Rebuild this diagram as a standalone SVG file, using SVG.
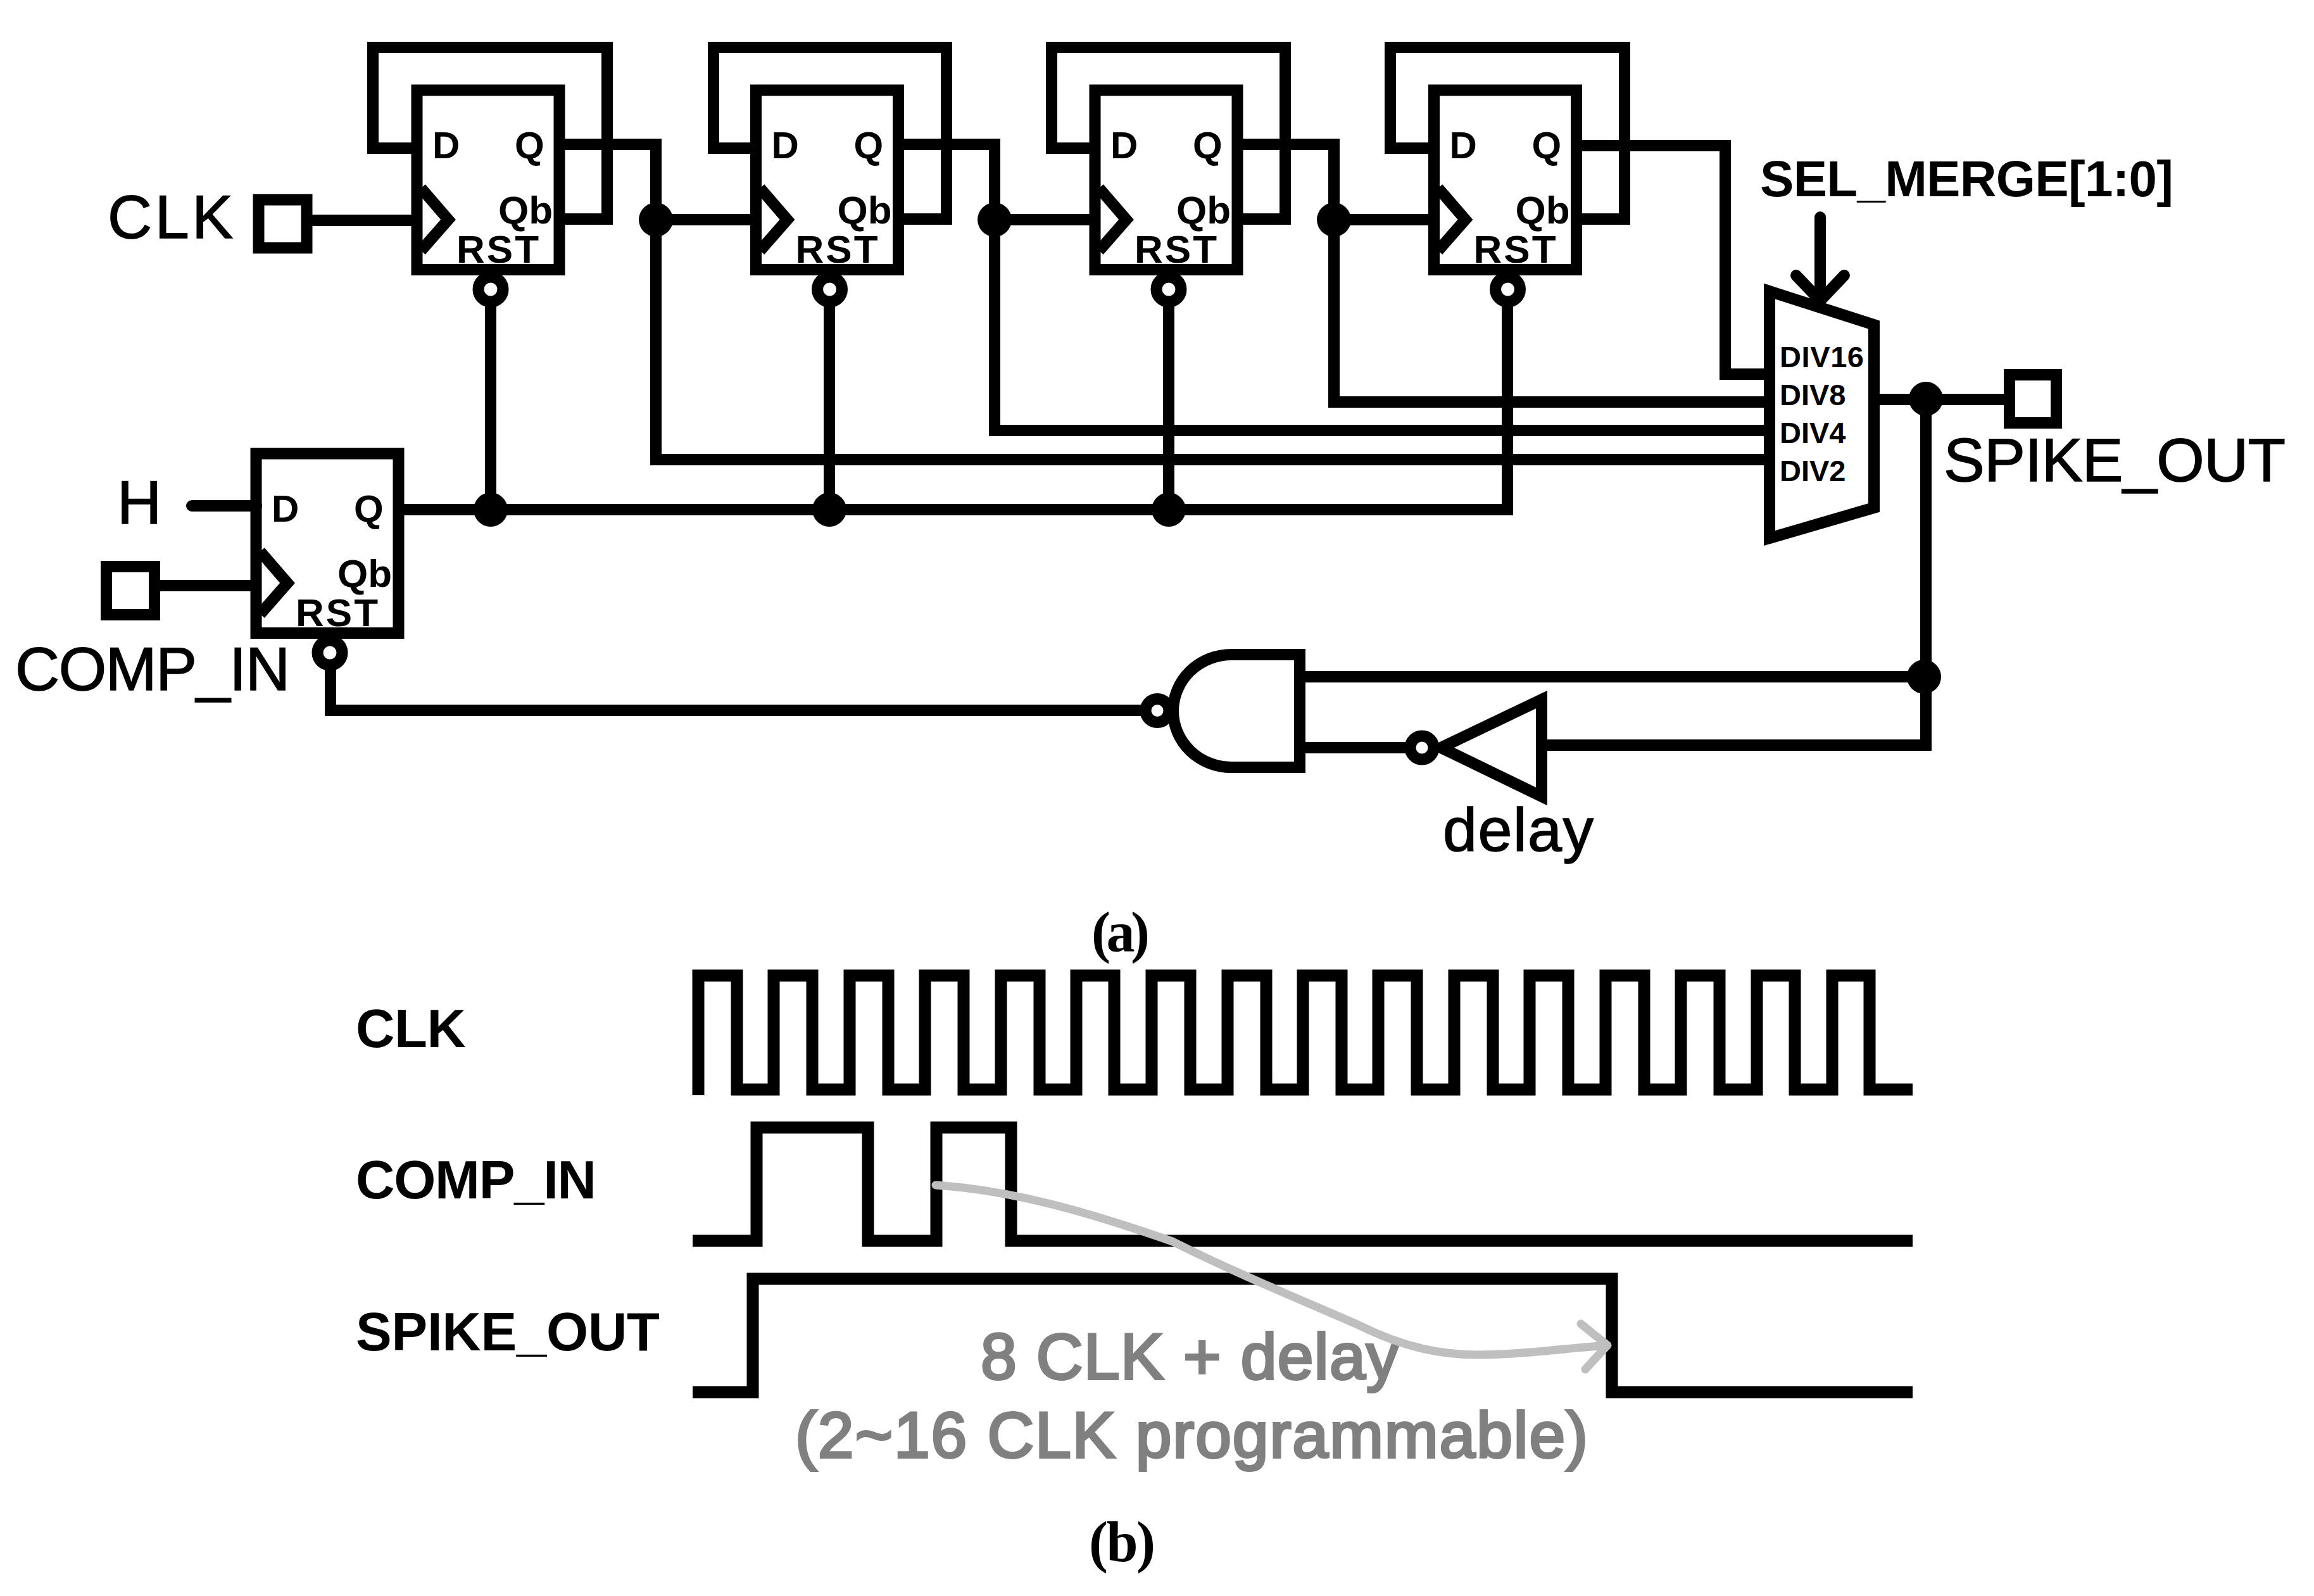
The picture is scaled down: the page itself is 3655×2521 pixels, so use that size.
<svg xmlns="http://www.w3.org/2000/svg" width="3655" height="2521" viewBox="0 0 3655 2521">
<style>
.w{fill:none;stroke:#000;stroke-width:18;stroke-linejoin:miter}
.b{fill:#fff;stroke:#000;stroke-width:18}
.d{fill:#000}
text{font-family:"Liberation Sans",Arial,sans-serif;fill:#000}
.ff{font-size:60px;font-weight:bold}
.fb{font-size:62px;font-weight:bold}
.mx{font-size:47px;font-weight:bold}
.lb{font-size:97px;stroke:#000;stroke-width:1.500px}
.tl{font-size:85px;font-weight:bold}
.gr{font-size:102px;fill:#808080;stroke:#808080;stroke-width:4px}
.cap{font-family:"Liberation Serif","Times New Roman",serif;font-size:90px;font-weight:bold}
.tw{fill:none;stroke:#000;stroke-width:19;stroke-linejoin:miter}
</style>
<rect width="3655" height="2521" fill="#fff"/>
<g id="connectors">
<path class="w" d="M493 348H650"/>
<path class="w" d="M658 234H589V75H959V346H883"/>
<path class="w" d="M1194 234H1127V75H1495V346H1419"/>
<path class="w" d="M1730 234H1661V75H2030V346H1955"/>
<path class="w" d="M2265 234H2196V75H2566V346H2491"/>
<path class="w" d="M883 228H1036V726H2795"/>
<path class="w" d="M1419 228H1571V680H2795"/>
<path class="w" d="M1955 228H2107V635H2795"/>
<path class="w" d="M2491 230H2725V591H2795"/>
<path class="w" d="M1036 347H1186M1571 347H1722M2107 347H2257"/>
<path class="w" d="M631 805H2381V470M775 470V805M1310 470V805M1846 470V805"/>
<path class="w" d="M303 799H405" stroke-linecap="round"/>
<path class="w" d="M252 925H396"/>
<path class="w" d="M522 1040V1122H1810" stroke-linejoin="round"/>
<path class="w" d="M2960 631H3165M3042 631V1177H2443"/>
<path class="w" d="M2053 1069H3042M2053 1181H2228"/>
<path class="w" d="M2875 343V472M2837 435L2875 475L2913 435" stroke-linecap="round" stroke-linejoin="round"/>
<circle class="d" cx="1036" cy="347" r="27"/>
<circle class="d" cx="1571" cy="347" r="27"/>
<circle class="d" cx="2107" cy="347" r="27"/>
<circle class="d" cx="775" cy="805" r="27"/>
<circle class="d" cx="1310" cy="805" r="27"/>
<circle class="d" cx="1846" cy="805" r="27"/>
<circle class="d" cx="3042" cy="630" r="27"/>
<circle class="d" cx="3039" cy="1069" r="27"/>
</g>
<g id="clk-pad"><rect class="b" x="408.500" y="315.500" width="76" height="76"/><text class="lb" x="170" y="376" textLength="198">CLK</text></g>
<g id="h-label"><text class="lb" x="185" y="827">H</text></g>
<g id="comp-pad"><rect class="b" x="168" y="895" width="76" height="76"/><text class="lb" x="24" y="1090" textLength="434">COMP_IN</text></g>
<g id="spike-pad"><rect class="b" x="3174" y="592" width="74" height="76"/><text class="lb" x="3070" y="760" textLength="540">SPIKE_OUT</text></g>
<g id="ff1">
<rect class="w" x="658.500" y="142.500" width="225" height="283.500"/>
<path class="w" d="M665 297L708 347L665 396"/>
<circle class="b" cx="775" cy="457" r="19.500"/>
<text class="ff" x="683" y="250">D</text><text class="ff" x="813" y="250">Q</text><text class="fb" x="787" y="353">Qb</text><text class="fb" x="721" y="415" textLength="130">RST</text>
</g>
<g id="ff2" transform="translate(535.500 0)">
<rect class="w" x="658.500" y="142.500" width="225" height="283.500"/>
<path class="w" d="M665 297L708 347L665 396"/>
<circle class="b" cx="775" cy="457" r="19.500"/>
<text class="ff" x="683" y="250">D</text><text class="ff" x="813" y="250">Q</text><text class="fb" x="787" y="353">Qb</text><text class="fb" x="721" y="415" textLength="130">RST</text>
</g>
<g id="ff3" transform="translate(1071 0)">
<rect class="w" x="658.500" y="142.500" width="225" height="283.500"/>
<path class="w" d="M665 297L708 347L665 396"/>
<circle class="b" cx="775" cy="457" r="19.500"/>
<text class="ff" x="683" y="250">D</text><text class="ff" x="813" y="250">Q</text><text class="fb" x="787" y="353">Qb</text><text class="fb" x="721" y="415" textLength="130">RST</text>
</g>
<g id="ff4" transform="translate(1606.500 0)">
<rect class="w" x="658.500" y="142.500" width="225" height="283.500"/>
<path class="w" d="M665 297L708 347L665 396"/>
<circle class="b" cx="775" cy="457" r="19.500"/>
<text class="ff" x="683" y="250">D</text><text class="ff" x="813" y="250">Q</text><text class="fb" x="787" y="353">Qb</text><text class="fb" x="721" y="415" textLength="130">RST</text>
</g>
<g id="ff0" transform="translate(-254 574)">
<rect class="w" x="658.500" y="142.500" width="225" height="283.500"/>
<path class="w" d="M665 297L708 347L665 396"/>
<circle class="b" cx="775" cy="457" r="19.500"/>
<text class="ff" x="683" y="250">D</text><text class="ff" x="813" y="250">Q</text><text class="fb" x="787" y="353">Qb</text><text class="fb" x="721" y="415" textLength="130">RST</text>
</g>
<g id="mux">
<path class="b" d="M2795 460L2960 513V802L2795 850Z"/>
<text class="mx" x="2811" y="580" textLength="133">DIV16</text>
<text class="mx" x="2811" y="640">DIV8</text>
<text class="mx" x="2811" y="700">DIV4</text>
<text class="mx" x="2811" y="760">DIV2</text>
</g>
<g id="sel-label"><text x="2780" y="310" font-size="80" font-weight="bold" textLength="653">SEL_MERGE[1:0]</text></g>
<g id="nand">
<path class="b" d="M2053 1034H1945A92 89 0 0 0 1945 1212H2053Z"/>
<circle class="b" cx="1828" cy="1122.500" r="18.500"/>
</g>
<g id="delay">
<path class="b" d="M2435 1105V1258L2276 1181Z"/>
<circle class="b" cx="2246" cy="1181" r="18.500"/>
<text class="lb" x="2279" y="1344" textLength="238">delay</text>
</g>
<text id="cap-a" class="cap" x="1724" y="1503" textLength="92">(a)</text>
<g id="waves">
<text class="tl" x="562" y="1654" textLength="174">CLK</text>
<text class="tl" x="562" y="1893" textLength="380">COMP_IN</text>
<text class="tl" x="562" y="2133" textLength="480">SPIKE_OUT</text>
<path class="tw" d="M1103 1730V1541H1164V1721H1222V1541H1283V1721H1342V1541H1403V1721H1461V1541H1522V1721H1581V1541H1642V1721H1700V1541H1760V1721H1819V1541H1880V1721H1939V1541H2000V1721H2058V1541H2119V1721H2177V1541H2238V1721H2297V1541H2358V1721H2416V1541H2477V1721H2536V1541H2597V1721H2655V1541H2716V1721H2775V1541H2835V1721H2894V1541H2953V1721H3021"/>
<path class="tw" d="M1094 1960H1195V1781H1371V1960H1479V1781H1597V1960H3021"/>
<path class="tw" d="M1094 2199H1189V2020H2546V2199H3021"/>
<text class="gr" x="1549" y="2178" textLength="660">8 CLK + delay</text>
<text class="gr" x="1256" y="2302" textLength="1252">(2~16 CLK programmable)</text>
<path d="M1478 1872C1600 1880 1720 1915 1852 1961C1960 2015 2060 2055 2146 2093C2220 2130 2280 2140 2334 2140C2400 2140 2470 2130 2539 2125M2497 2091L2539 2125L2504 2163" fill="none" stroke="#bfbfbf" stroke-width="13" stroke-linecap="round" stroke-linejoin="round"/>
</g>
<text id="cap-b" class="cap" x="1720" y="2466" textLength="105">(b)</text>
</svg>
